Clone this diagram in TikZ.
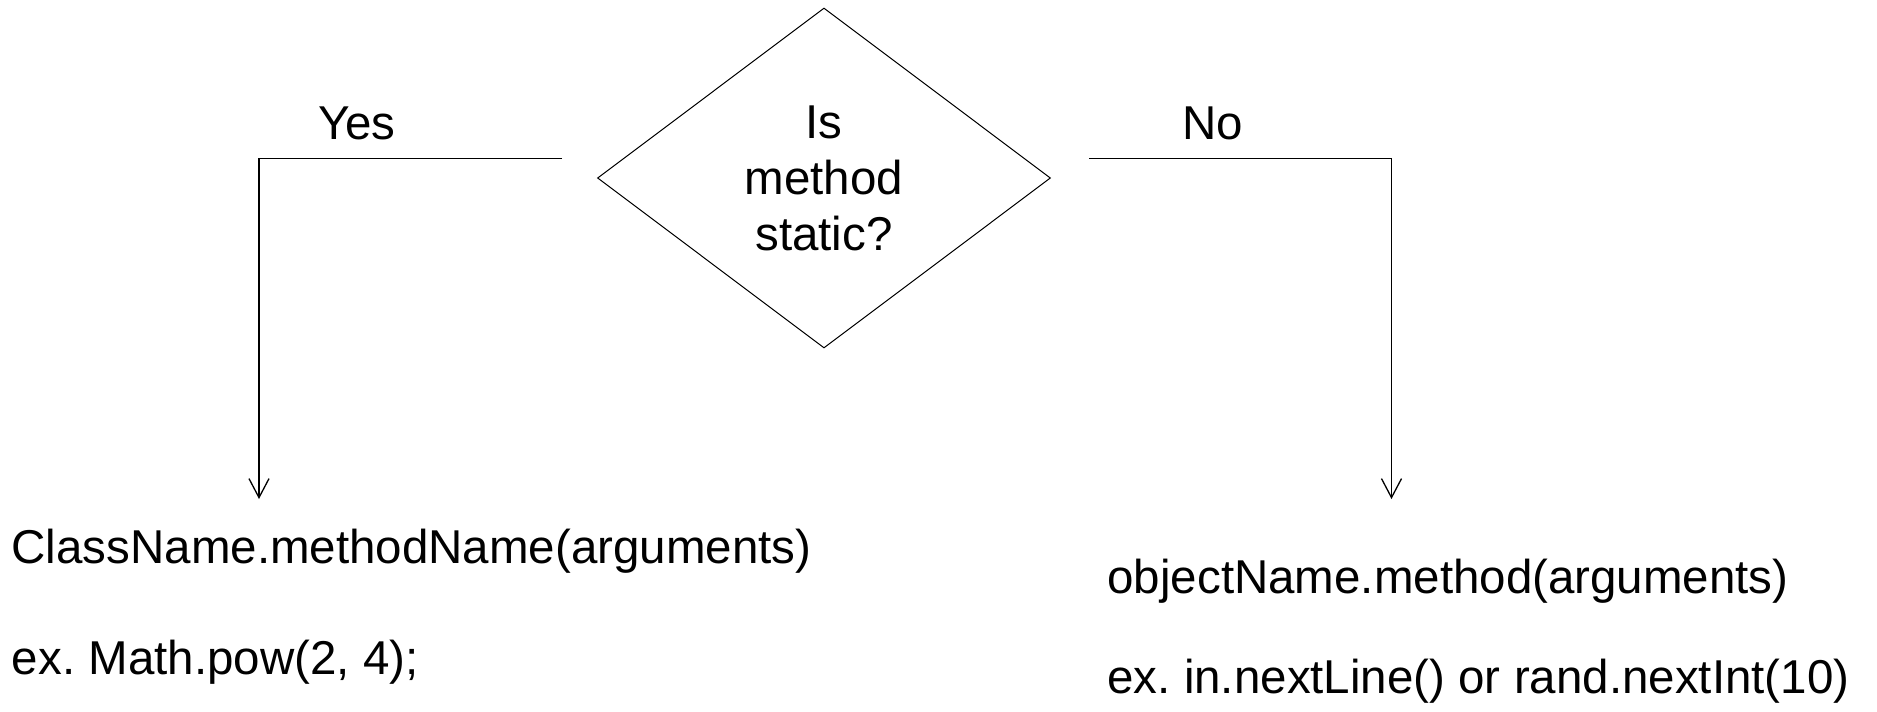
\documentclass[tikz,border=0pt]{standalone}
\usepackage{fontspec}
\setmainfont{Liberation Sans}
\usetikzlibrary{shapes.geometric,arrows.meta}
\frenchspacing

\tikzset{
  txt/.style={inner sep=0pt, outer sep=0pt, anchor=base west,
              font=\fontsize{47.5}{56}\selectfont},
  decision/.style={diamond, draw, line width=1pt, inner sep=0pt,
                   minimum width=453pt, minimum height=340pt,
                   align=center, font=\fontsize{47.5}{56}\selectfont},
  conn/.style={draw, line width=1.3pt,
               -{Straight Barb[length=19pt, width=20pt, line width=1.3pt]}}
}

\begin{document}
\begin{tikzpicture}[x=1pt, y=-1pt]
  \useasboundingbox (0,0) rectangle (1877,712);

  % decision
  \node[decision] (q) at (824,178) {Is\\method\\static?};

  % branch labels
  \node[txt] (yes) at (318,139) {Yes};
  \node[txt] (no)  at (1182.5,139) {No};

  % branch ends
  \coordinate (yesfrom) at (562,158.5);
  \coordinate (yesto)   at (259,499);
  \coordinate (nofrom)  at (1089,158.5);
  \coordinate (noto)    at (1391.5,499);

  \draw[conn] (yesfrom) -| (yesto);
  \draw[conn] (nofrom)  -| (noto);

  % call forms
  \node[txt] (cls)   at (11.6,563) {ClassName.methodName(arguments)};
  \node[txt] (clsex) at (12,674)   {ex. Math.pow(2, 4);};
  \node[txt] (obj)   at (1107.5,593) {objectName.method(arguments)};
  \node[txt] (objex) at (1107.5,693) {ex. in.nextLine() or rand.nextInt(10)};
\end{tikzpicture}
\end{document}
